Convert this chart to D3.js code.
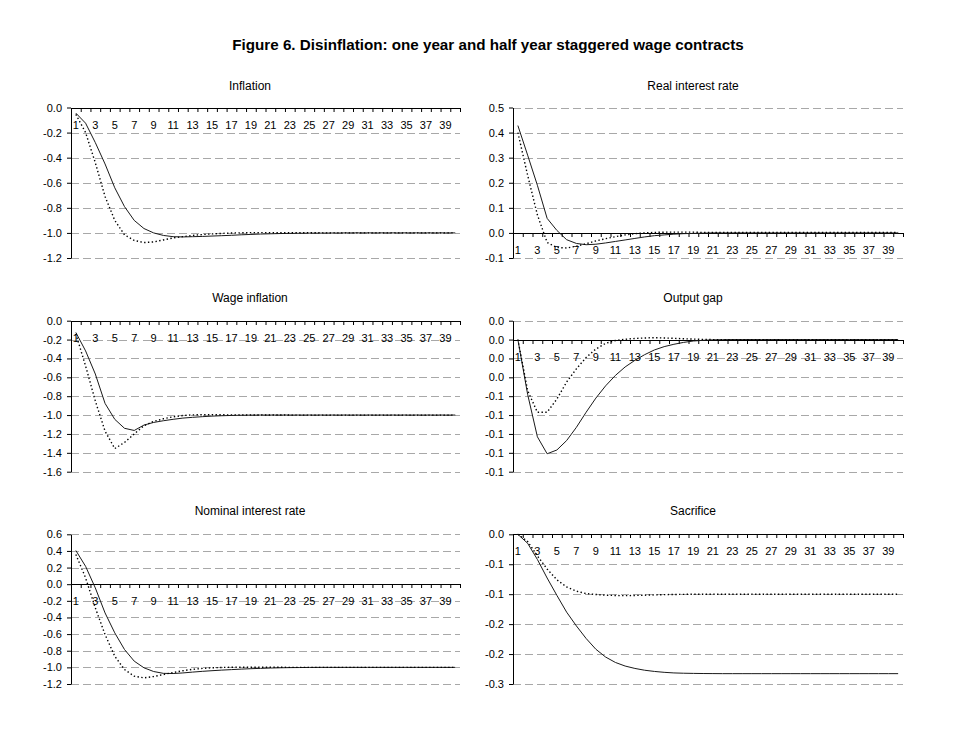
<!DOCTYPE html>
<html>
<head>
<meta charset="utf-8">
<script src="https://cdn.jsdelivr.net/npm/d3@7"></script>
<style>
	body { margin: 0; background: #fff; }
	svg { font-family: Arial, 'Liberation Sans', sans-serif; }
</style>
</head>
<body>
<svg id="figure" width="962" height="736"></svg>
<script>
// quarters after the start of the disinflation
const periods = [1, 2, 3, 4, 5, 6, 7, 8, 9, 10, 11, 12, 13, 14, 15, 16, 17, 18, 19, 20,
	21, 22, 23, 24, 25, 26, 27, 28, 29, 30, 31, 32, 33, 34, 35, 36, 37, 38, 39, 40];
const xTickLabels = [1, 3, 5, 7, 9, 11, 13, 15, 17, 19, 21, 23, 25, 27, 29, 31, 33, 35, 37, 39];

//solid = one year contracts, dotted = half year contracts
const inflationOneYear = [-0.045, -0.125, -0.28, -0.45, -0.64, -0.79, -0.90, -0.965, -1.0, -1.02,
	-1.03, -1.032, -1.03, -1.028, -1.025, -1.022, -1.019, -1.015, -1.012, -1.009,
	-1.007, -1.005, -1.004, -1.003, -1.002, -1.002, -1.001, -1.001, -1.0, -1.0,
	-1.0, -1.0, -1.0, -1.0, -1.0, -1.0, -1.0, -1.0, -1.0, -1.0];
const inflationHalfYear = [-0.055, -0.2, -0.44, -0.71, -0.9, -1.015, -1.06, -1.077, -1.072, -1.056,
	-1.04, -1.03, -1.02, -1.013, -1.008, -1.004, -1.001, -0.999, -0.998, -0.998,
	-0.998, -0.999, -0.999, -0.999, -0.999, -0.999, -1.0, -1.0, -1.0, -1.0,
	-1.0, -1.0, -1.0, -1.0, -1.0, -1.0, -1.0, -1.0, -1.0, -1.0];
const inflationTicks = [0, -0.2, -0.4, -0.6, -0.8, -1.0, -1.2];

const realRateOneYear = [0.428, 0.31, 0.19, 0.058, 0.01, -0.027, -0.042, -0.047, -0.045, -0.04,
	-0.034, -0.028, -0.022, -0.016, -0.011, -0.008, -0.005, -0.003, -0.002, -0.001,
	0, 0, 0, 0, 0, 0, 0, 0, 0, 0,
	0, 0, 0, 0, 0, 0, 0, 0, 0, 0];
const realRateHalfYear = [0.40, 0.23, 0.072, -0.038, -0.058, -0.06, -0.053, -0.043, -0.032, -0.023,
	-0.015, -0.008, -0.003, 0, 0.002, 0.003, 0.003, 0.003, 0.003, 0.002,
	0.002, 0.002, 0.002, 0.002, 0.002, 0.002, 0.002, 0.002, 0.002, 0.002,
	0.002, 0.002, 0.002, 0.002, 0.002, 0.002, 0.002, 0.002, 0.002, 0.002];
const realRateTicks = [0.5, 0.4, 0.3, 0.2, 0.1, 0, -0.1];

const wageOneYear = [-0.125, -0.32, -0.565, -0.876, -1.045, -1.14, -1.163, -1.106, -1.078, -1.06,
	-1.045, -1.032, -1.024, -1.017, -1.011, -1.007, -1.004, -1.002, -1.001, -1.0,
	-1.0, -1.0, -1.0, -1.0, -1.0, -1.0, -1.0, -1.0, -1.0, -1.0,
	-1.0, -1.0, -1.0, -1.0, -1.0, -1.0, -1.0, -1.0, -1.0, -1.0];
const wageHalfYear = [-0.14, -0.48, -0.85, -1.17, -1.355, -1.29, -1.2, -1.113, -1.067, -1.039,
	-1.018, -1.005, -0.998, -0.996, -0.996, -0.997, -0.998, -0.998, -0.999, -0.999,
	-0.999, -0.999, -1.0, -1.0, -1.0, -1.0, -1.0, -1.0, -1.0, -1.0,
	-1.0, -1.0, -1.0, -1.0, -1.0, -1.0, -1.0, -1.0, -1.0, -1.0];
const wageTicks = [0, -0.2, -0.4, -0.6, -0.8, -1.0, -1.2, -1.4, -1.6];

const outputGapOneYear = [0, -0.058, -0.103, -0.121, -0.117, -0.107, -0.093, -0.077, -0.062, -0.049,
	-0.038, -0.029, -0.022, -0.016, -0.011, -0.0075, -0.005, -0.003, -0.0015, -0.0008,
	-0.0003, -0.0001, 0, 0, 0, 0, 0, 0, 0, 0,
	0, 0, 0, 0, 0, 0, 0, 0, 0, 0];
const outputGapHalfYear = [0, -0.054, -0.077, -0.077, -0.063, -0.045, -0.031, -0.019, -0.010, -0.004,
	-0.001, 0.0003, 0.0012, 0.0017, 0.002, 0.0017, 0.0013, 0.0009, 0.0005, 0.0002,
	0, 0, 0, 0, 0, 0, 0, 0, 0, 0,
	0, 0, 0, 0, 0, 0, 0, 0, 0, 0];
const outputGapTicks = [0.02, 0, -0.02, -0.04, -0.06, -0.08, -0.10, -0.12, -0.14];
const outputGapTickLabels = ['0.0', '0.0', '0.0', '0.0', '-0.1', '-0.1', '-0.1', '-0.1', '-0.1'];

const nominalRateOneYear = [0.405, 0.215, -0.045, -0.345, -0.585, -0.785, -0.925, -1.005, -1.05, -1.072,
	-1.074, -1.067, -1.057, -1.048, -1.04, -1.033, -1.027, -1.021, -1.016, -1.012,
	-1.008, -1.005, -1.003, -1.002, -1.001, -1.0, -1.0, -1.0, -1.0, -1.0,
	-1.0, -1.0, -1.0, -1.0, -1.0, -1.0, -1.0, -1.0, -1.0, -1.0];
const nominalRateHalfYear = [0.357, 0.076, -0.285, -0.605, -0.866, -1.026, -1.106, -1.126, -1.11, -1.086,
	-1.062, -1.04, -1.024, -1.012, -1.005, -1.001, -0.999, -0.998, -0.998, -0.999,
	-0.999, -0.999, -1.0, -1.0, -1.0, -1.0, -1.0, -1.0, -1.0, -1.0,
	-1.0, -1.0, -1.0, -1.0, -1.0, -1.0, -1.0, -1.0, -1.0, -1.0];
const nominalRateTicks = [0.6, 0.4, 0.2, 0, -0.2, -0.4, -0.6, -0.8, -1.0, -1.2];

const sacrificeOneYear = [0, -0.015, -0.042, -0.073, -0.102, -0.13, -0.153, -0.174, -0.192, -0.205,
	-0.214, -0.22, -0.224, -0.227, -0.229, -0.2305, -0.2315, -0.232, -0.2323, -0.2325,
	-0.2326, -0.2327, -0.2327, -0.2327, -0.2327, -0.2327, -0.2327, -0.2327, -0.2327, -0.2327,
	-0.2327, -0.2327, -0.2327, -0.2327, -0.2327, -0.2327, -0.2327, -0.2327, -0.2327, -0.2327];
const sacrificeHalfYear = [0, -0.012, -0.036, -0.058, -0.076, -0.088, -0.095, -0.099, -0.1005, -0.1017,
	-0.1022, -0.1025, -0.1022, -0.1017, -0.1012, -0.1008, -0.1005, -0.1003, -0.1001, -0.1,
	-0.1, -0.1, -0.1, -0.1, -0.1, -0.1, -0.1, -0.1, -0.1, -0.1,
	-0.1, -0.1, -0.1, -0.1, -0.1, -0.1, -0.1, -0.1, -0.1, -0.1];
const sacrificeTicks = [0, -0.05, -0.10, -0.15, -0.20, -0.25];
const sacrificeTickLabels = ['0.0', '-0.1', '-0.1', '-0.2', '-0.2', '-0.3'];

//=========================================================================================
// layout of the 3 x 2 grid of small charts

const columns = [
	{left: 71, right: 460, titleX: 250},
	{left: 513, right: 903, titleX: 693}
];
const rows = [
	{top: 107.5, bottom: 258, titleY: 90},
	{top: 320.7, bottom: 471.7, titleY: 302},
	{top: 534.3, bottom: 684, titleY: 515}
];

const panels = [
	{title: 'Inflation', col: 0, row: 0, solid: inflationOneYear, dotted: inflationHalfYear, ticks: inflationTicks},
	{title: 'Real interest rate', col: 1, row: 0, solid: realRateOneYear, dotted: realRateHalfYear, ticks: realRateTicks},
	{title: 'Wage inflation', col: 0, row: 1, solid: wageOneYear, dotted: wageHalfYear, ticks: wageTicks},
	{title: 'Output gap', col: 1, row: 1, solid: outputGapOneYear, dotted: outputGapHalfYear, ticks: outputGapTicks, labels: outputGapTickLabels},
	{title: 'Nominal interest rate', col: 0, row: 2, solid: nominalRateOneYear, dotted: nominalRateHalfYear, ticks: nominalRateTicks},
	{title: 'Sacrifice', col: 1, row: 2, solid: sacrificeOneYear, dotted: sacrificeHalfYear, ticks: sacrificeTicks, labels: sacrificeTickLabels}
];

const svg = d3.select('#figure');

svg.append('text')
	.attr('x', 488)
	.attr('y', 50)
	.attr('text-anchor', 'middle')
	.style('font-size', '15.2px')
	.style('font-weight', 'bold')
	.text('Figure 6. Disinflation: one year and half year staggered wage contracts');

panels.forEach(drawPanel);

function drawPanel(p) {
	const //
		col = columns[p.col],
		row = rows[p.row],
		x = d3.scaleBand().domain(periods).range([col.left, col.right]),
		xEdge = d3.scaleLinear().domain([0, periods.length]).range([col.left, col.right]),
		y = d3.scaleLinear().domain([d3.min(p.ticks), d3.max(p.ticks)]).range([row.bottom, row.top]),
		zeroY = Math.round(y(0)),
		g = svg.append('g');

	g.append('text')
		.attr('x', col.titleX)
		.attr('y', row.titleY)
		.attr('text-anchor', 'middle')
		.style('font-size', '12px')
		.text(p.title);

	//dashed grid lines, the zero one is covered by the category axis
	g.append('g')
		.selectAll('line')
		.data(p.ticks.filter(t => t !== 0))
		.join('line')
		.attr('x1', col.left)
		.attr('x2', col.right)
		.attr('y1', d => Math.round(y(d)) + 0.5)
		.attr('y2', d => Math.round(y(d)) + 0.5)
		.attr('stroke', '#a8a8a8')
		.attr('stroke-dasharray', '8,4');

	//value axis
	const yAxis = d3.axisLeft(y)
		.tickValues(p.ticks)
		.tickSize(4)
		.tickSizeOuter(0)
		.tickPadding(5)
		.tickFormat((d, i) => (p.labels ? p.labels[i] : d.toFixed(1)));
	const yg = g.append('g').attr('transform', `translate(${Math.round(col.left)},0)`).call(yAxis);
	styleAxis(yg);

	//category axis: tick marks between categories, labels on every other category
	const tickAxis = d3.axisBottom(xEdge)
		.tickValues(d3.range(0, periods.length + 1))
		.tickSize(4)
		.tickSizeOuter(0)
		.tickFormat('');
	const tg = g.append('g').attr('transform', `translate(0,${zeroY})`).call(tickAxis);
	styleAxis(tg);

	const labelAxis = d3.axisBottom(x).tickValues(xTickLabels).tickSize(0).tickPadding(13);
	const lg = g.append('g').attr('transform', `translate(0,${zeroY})`).call(labelAxis);
	styleAxis(lg);
	lg.select('.domain').remove();

	const line = d3
		.line()
		.x((d, i) => x(periods[i]) + x.bandwidth() / 2)
		.y(d => y(d));

	g.append('path')
		.attr('d', line(p.solid))
		.attr('fill', 'none')
		.attr('stroke', '#1a1a1a')
		.attr('stroke-width', 1);

	g.append('path')
		.attr('d', line(p.dotted))
		.attr('fill', 'none')
		.attr('stroke', '#000')
		.attr('stroke-width', 1.4)
		.attr('stroke-dasharray', '1.4,2.4');
}

function styleAxis(sel) {
	sel.attr('font-family', 'Arial, Liberation Sans, sans-serif').attr('font-size', 11);
	sel.select('.domain').attr('stroke', '#000');
	sel.selectAll('.tick line').attr('stroke', '#000');
	sel.selectAll('.tick text').attr('fill', '#000');
}
</script>
</body>
</html>
